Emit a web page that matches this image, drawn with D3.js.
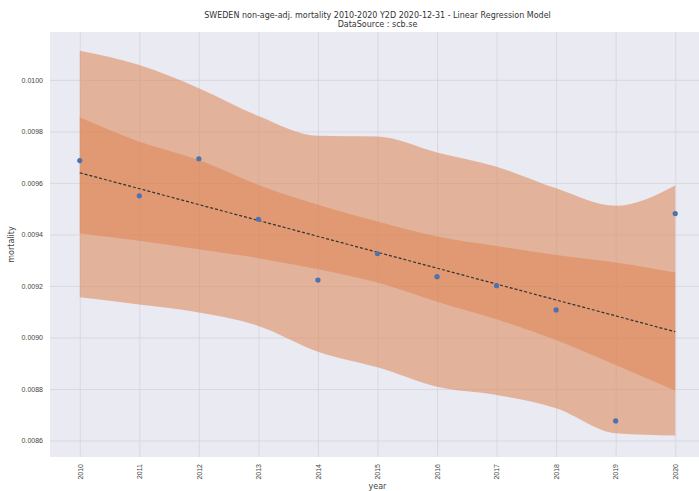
<!DOCTYPE html>
<html>
<head>
<meta charset="utf-8">
<script src="https://cdn.jsdelivr.net/npm/d3@7"></script>
<style>
  body { margin: 0; background: #fff; }
  svg { display: block; font-family: "DejaVu Sans", sans-serif; }
</style>
</head>
<body>
<svg id="chart" width="699" height="491"></svg>
<script>
// yearly values
const years = [2010, 2011, 2012, 2013, 2014, 2015, 2016, 2017, 2018, 2019, 2020];
const mortality = [0.009687, 0.009550, 0.009694, 0.009459, 0.009223, 0.009325,
                   0.009236, 0.009201, 0.009107, 0.008676, 0.009481];
// inner (confidence) band
const innerUpper = [0.009855, 0.009760, 0.009689, 0.009592, 0.009515, 0.009450,
                    0.009392, 0.009355, 0.009320, 0.009291, 0.009252];
const innerLower = [0.009405, 0.009376, 0.009343, 0.009308, 0.009265, 0.009213,
                    0.009139, 0.009071, 0.008990, 0.008893, 0.008794];
// outer (prediction) band
const outerUpper = [0.010113, 0.010058, 0.009968, 0.009860, 0.009783, 0.009780,
                    0.009718, 0.009663, 0.009579, 0.009511, 0.009590];
const outerLower = [0.009156, 0.009128, 0.009097, 0.009045, 0.008945, 0.008884,
                    0.008809, 0.008777, 0.008725, 0.008628, 0.008619];
const yTicks = [0.0086, 0.0088, 0.0090, 0.0092, 0.0094, 0.0096, 0.0098, 0.0100];

const titleLines = ["SWEDEN non-age-adj. mortality 2010-2020 Y2D 2020-12-31 - Linear Regression Model",
                    "DataSource : scb.se"];

const svg = d3.select("#chart");
const margin = {left: 50, right: 705, top: 32, bottom: 457};

const x = d3.scaleLinear().domain([2009.5, 2020.5]).range([margin.left, margin.right]);
const y = d3.scaleLinear().domain([0.008536, 0.010186]).range([margin.bottom, margin.top]);

// background
svg.append("rect")
    .attr("x", margin.left).attr("y", margin.top)
    .attr("width", margin.right - margin.left)
    .attr("height", margin.bottom - margin.top)
    .attr("fill", "#eaeaf2");

// grid lines
svg.append("g")
    .attr("transform", `translate(0,${margin.bottom})`)
    .call(d3.axisBottom(x).tickValues(years).tickSize(-(margin.bottom - margin.top)).tickFormat(""))
    .call(g => g.select(".domain").remove())
    .call(g => g.selectAll("line").attr("stroke", "#d4d4dc").attr("stroke-width", 0.8));
svg.append("g")
    .attr("transform", `translate(${margin.left},0)`)
    .call(d3.axisLeft(y).tickValues(yTicks).tickSize(-(margin.right - margin.left)).tickFormat(""))
    .call(g => g.select(".domain").remove())
    .call(g => g.selectAll("line").attr("stroke", "#d4d4dc").attr("stroke-width", 0.8));

// bands
const band = (lo, hi) => d3.area()
    .x((d, i) => x(years[i]))
    .y0((d, i) => y(lo[i]))
    .y1((d, i) => y(hi[i]))
    .curve(d3.curveMonotoneX)(years);

svg.append("path")
    .attr("d", band(outerLower, outerUpper))
    .attr("fill", "#dd8452").attr("fill-opacity", 0.54);
svg.append("path")
    .attr("d", band(innerLower, innerUpper))
    .attr("fill", "#dd8452").attr("fill-opacity", 0.54);

// least squares fit of the points
const mx = d3.mean(years), my = d3.mean(mortality);
const slope = d3.sum(years, (d, i) => (d - mx) * (mortality[i] - my)) /
              d3.sum(years, d => (d - mx) * (d - mx));
const fit = d => my + slope * (d - mx);

svg.append("line")
    .attr("x1", x(years[0])).attr("y1", y(fit(years[0])))
    .attr("x2", x(years[years.length - 1])).attr("y2", y(fit(years[years.length - 1])))
    .attr("stroke", "#333").attr("stroke-width", 1.2)
    .attr("stroke-dasharray", "3,2");

// points
svg.append("g")
    .selectAll("circle")
    .data(mortality)
    .enter().append("circle")
    .attr("cx", (d, i) => x(years[i]))
    .attr("cy", d => y(d))
    .attr("r", 2.6)
    .attr("fill", "#4c72b0");

// axes labels
svg.append("g")
    .attr("transform", `translate(${margin.left},0)`)
    .call(d3.axisLeft(y).tickValues(yTicks).tickSize(0).tickPadding(7).tickFormat(d3.format(".4f")))
    .call(g => g.select(".domain").remove())
    .call(g => g.selectAll("text").attr("fill", "#444").style("font-size", "7px"));

svg.append("g")
    .attr("transform", `translate(0,${margin.bottom})`)
    .call(d3.axisBottom(x).tickValues(years).tickSize(0).tickFormat(d3.format("d")))
    .call(g => g.select(".domain").remove())
    .call(g => g.selectAll("text")
        .attr("fill", "#444").style("font-size", "7px")
        .attr("transform", "rotate(-90)")
        .attr("text-anchor", "end")
        .attr("x", -7).attr("y", 0).attr("dy", "0.32em"));

svg.append("text")
    .attr("x", (margin.left + margin.right) / 2).attr("y", 489)
    .attr("text-anchor", "middle")
    .attr("fill", "#444").style("font-size", "8px")
    .text("year");

svg.append("text")
    .attr("transform", `translate(14,${(margin.top + margin.bottom) / 2}) rotate(-90)`)
    .attr("text-anchor", "middle")
    .attr("fill", "#444").style("font-size", "8px")
    .text("mortality");

svg.append("g").selectAll("text")
    .data(titleLines)
    .enter().append("text")
    .attr("x", (margin.left + margin.right) / 2)
    .attr("y", (d, i) => 18 + i * 9)
    .attr("text-anchor", "middle")
    .attr("fill", "#333").style("font-size", "8px")
    .text(d => d);
</script>
</body>
</html>
